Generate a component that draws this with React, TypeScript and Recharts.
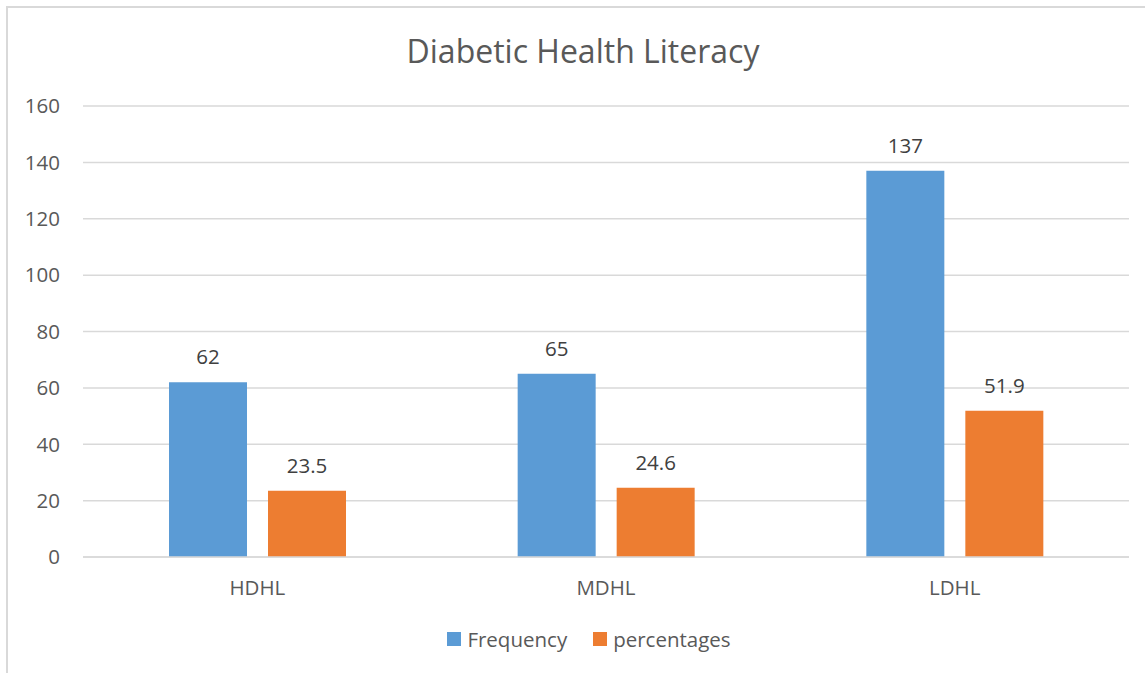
import { BarChart, Bar, XAxis, YAxis, CartesianGrid, Legend, LabelList } from "recharts";

const categories = ["HDHL", "MDHL", "LDHL"];
const frequency = [62, 65, 137];
const percentages = [23.5, 24.6, 51.9];
const yTicks = [0, 20, 40, 60, 80, 100, 120, 140, 160];

const data = categories.map((name, i) => ({
  name,
  Frequency: frequency[i],
  percentages: percentages[i],
}));

const FONT = "'Open Sans', sans-serif";

const renderLegend = (props: any) => {
  const { payload } = props;
  return (
    <div style={{ display: "flex", justifyContent: "center", fontFamily: FONT }}>
      {payload.map((entry: any, i: number) => (
        <div
          key={i}
          style={{ display: "flex", alignItems: "center", marginRight: i === 0 ? 26 : 0 }}
        >
          <span style={{ width: 14, height: 14, background: entry.color, display: "inline-block", marginRight: 6 }} />
          <span style={{ fontSize: 20.5, color: "#595959" }}>{entry.value}</span>
        </div>
      ))}
    </div>
  );
};

const App = () => {
  return (
    <div style={{ position: "absolute", left: 0, top: 0, width: 1145, height: 673, overflow: "hidden", background: "#fff" }}>
      <div
        style={{
          position: "absolute",
          left: 6,
          top: 6,
          width: 1200,
          height: 800,
          border: "2px solid #d9d9d9",
        }}
      />
      <div
        style={{
          position: "absolute",
          left: 0,
          width: 1166,
          top: 29,
          textAlign: "center",
          fontFamily: FONT,
          fontSize: 32,
          color: "#595959",
        }}
      >
        Diabetic Health Literacy
      </div>
      <div style={{ position: "absolute", left: 0, top: 0 }}>
        <BarChart
          width={1145}
          height={673}
          data={data}
          margin={{ top: 106, right: 16, left: 0, bottom: 0 }}
          barGap={21}
          barSize={78}
        >
          <CartesianGrid vertical={false} stroke="#d9d9d9" strokeWidth={1.5} />
          <XAxis
            dataKey="name"
            axisLine={{ stroke: "#d9d9d9", strokeWidth: 1.5 }}
            tickLine={false}
            tickMargin={17}
            height={88}
            tick={{ fill: "#595959", fontSize: 20.5, fontFamily: FONT }}
          />
          <YAxis
            width={83}
            domain={[0, 160]}
            ticks={yTicks}
            axisLine={false}
            tickLine={false}
            tickMargin={17}
            tick={{ fill: "#595959", fontSize: 20.5, fontFamily: FONT }}
          />
          <Legend
            verticalAlign="bottom"
            content={renderLegend}
            wrapperStyle={{ top: 625, left: 0, width: 1178 }}
          />
          <Bar dataKey="Frequency" fill="#5B9BD5" isAnimationActive={false}>
            <LabelList dataKey="Frequency" position="top" offset={18} fill="#404040" fontSize={20.5} fontFamily={FONT} />
          </Bar>
          <Bar dataKey="percentages" fill="#ED7D31" isAnimationActive={false}>
            <LabelList dataKey="percentages" position="top" offset={18} fill="#404040" fontSize={20.5} fontFamily={FONT} />
          </Bar>
        </BarChart>
      </div>
    </div>
  );
};

export default App;
